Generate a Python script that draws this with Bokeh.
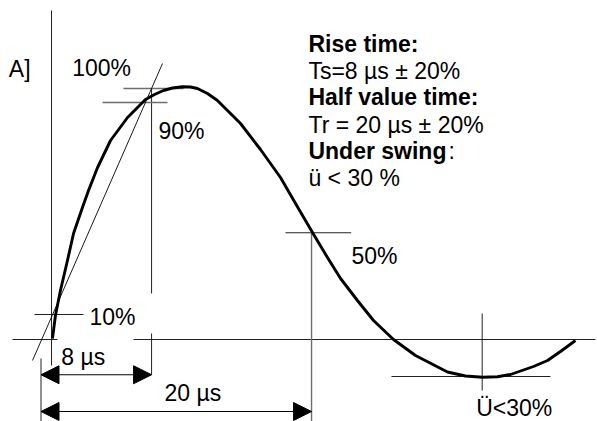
from bokeh.plotting import figure
from bokeh.models import Range1d, Arrow, NormalHead
from bokeh.core.properties import value
from bokeh.embed import file_html
from bokeh.resources import INLINE

# ---------------- data (time in µs, current in % of peak) ----------------
t_us = [0.85, 1.07, 1.44, 1.96, 2.41, 3.07, 3.52, 4.19, 5.15, 6.41, 7.74, 8.41,
        9.07, 9.74, 10.48, 11.07, 11.59, 12.33, 13.07, 14.78, 16.26, 17.74,
        19.07, 20.11, 21.22, 22.19, 23.44, 24.63, 26.11, 27.74, 30.11, 31.44,
        32.70, 33.81, 34.78, 36.48, 37.52, 38.48, 39.59]
i_pct = [0.4, 9.6, 19.6, 31.6, 42.4, 52.8, 59.6, 68.8, 79.6, 88.8, 96.0, 98.0,
         99.6, 100.6, 101.1, 101.0, 100.4, 98.4, 95.6, 86.4, 76.0, 64.8,
         52.4, 42.8, 32.8, 24.4, 15.6, 7.6, 0.0, -6.4, -13.0, -14.6,
         -15.1, -14.9, -14.0, -10.8, -8.4, -4.8, -0.4]

# characteristic levels (%) and times (µs) as drawn
level_names = ["10%", "90%", "100%", "50%", "under"]
level_pct = [10.0, 94.8, 100.4, 42.7, -14.8]
t_axis = 0.78        # current axis
t_90 = 8.19          # front time mark (8 µs)
t_50 = 20.04         # half value time mark (20 µs)
t_under = 32.68      # undershoot minimum
tangent_t = [-0.63, 9.0]
tangent_i = [-8.4, 110.4]

label_texts = ["A]", "100%", "90%", "10%", "8 µs", "20 µs", "50%", "Ü<30%"]
info_bold = ["Rise time:", "Half value time:", "Under swing"]
info_plain = ["Ts=8 µs ± 20%", "Tr = 20 µs ± 20%", "ü < 30 %"]

# ---------------- layout ----------------
W, H = 597, 421
PX_US, PX_PCT = 13.5, 2.5
OX, OY = 40.5, 339          # origin inside the frame (px)
x_rng = Range1d(-OX / PX_US, (W - OX) / PX_US)
y_rng = Range1d(-(H - OY) / PX_PCT, OY / PX_PCT)
YB, YT = y_rng.start, y_rng.end
TXT_DY = 3.0                # baseline correction for the renderer (in % units)

p = figure(width=W, height=H, x_range=x_rng, y_range=y_rng,
           output_backend="svg", toolbar_location=None, min_border=0,
           x_axis_location=None, y_axis_location=None,
           outline_line_color=None, background_fill_color="white",
           border_fill_color="white")
p.xgrid.grid_line_color = None
p.ygrid.grid_line_color = None

l10, l90, l100, l50, lund = level_pct
dim8_y, dim20_y = -14.1, -28.8

# thin guide lines (black)
gx0 = [t_axis, -2.11, 6.85, -0.48, t_90, t_90, 0.0, t_under, 25.96, 18.11]
gy0 = [-10.4, 0.0, 0.0, l10, 18.4, dim8_y, YB, -20.4, lund, l50]
gx1 = [t_axis, 1.22, 41.07, 3.15, t_90, t_90, 0.0, t_under, 37.74, 22.98]
gy1 = [131.6, 0.0, 0.0, l10, l100, 2.4, -7.6, 10.4, lund, l50]
p.segment(gx0, gy0, gx1, gy1, line_color="#222222", line_width=1)

# grey guide lines
p.segment([6.11, 4.56, t_50], [l100, l90, YB], [10.56, 9.37, t_50], [l100, l90, l50],
          line_color="#6e6e6e", line_width=1.4)

# tangent
p.line(tangent_t, tangent_i, line_color="black", line_width=0.9)

# waveform
p.line(t_us, i_pct, line_color="black", line_width=2.9, line_join="round")

# dimension arrows
for xe, ye in [(t_90, dim8_y), (t_50, dim20_y)]:
    p.add_layout(Arrow(x_start=0.0, y_start=ye, x_end=xe, y_end=ye,
                       line_color="black", line_width=1,
                       start=NormalHead(size=18, fill_color="black", line_color="black", line_width=1),
                       end=NormalHead(size=18, fill_color="black", line_color="black", line_width=1)))

font = value("Liberation Sans")
lab_x = [-2.385, 2.31, 8.70, 3.59, 1.50, 9.15, 23.0, 32.24]
lab_y = [105.2, 105.6, 80.4, 6.0, -10.1, -24.4, 30.3, -30.4]
p.text(lab_x, [v + TXT_DY for v in lab_y], text=label_texts, text_font=font,
       text_font_size="23px", text_baseline="alphabetic", text_align="left",
       text_color="black")

info_x = 19.81
p.text([info_x] * 3, [v + TXT_DY for v in [115.2, 94.0, 72.4]], text=info_bold,
       text_font=font, text_font_size="23px", text_font_style="bold",
       text_baseline="alphabetic", text_align="left", text_color="black")
p.text([info_x] * 3, [v + TXT_DY for v in [104.4, 82.8, 61.6]], text=info_plain,
       text_font=font, text_font_size="23px", text_baseline="alphabetic",
       text_align="left", text_color="black")
p.text([30.19], [72.4 + TXT_DY], text=[":"], text_font=font, text_font_size="23px",
       text_baseline="alphabetic", text_align="left", text_color="black")

open("out.html", "w").write(file_html(p, INLINE))
